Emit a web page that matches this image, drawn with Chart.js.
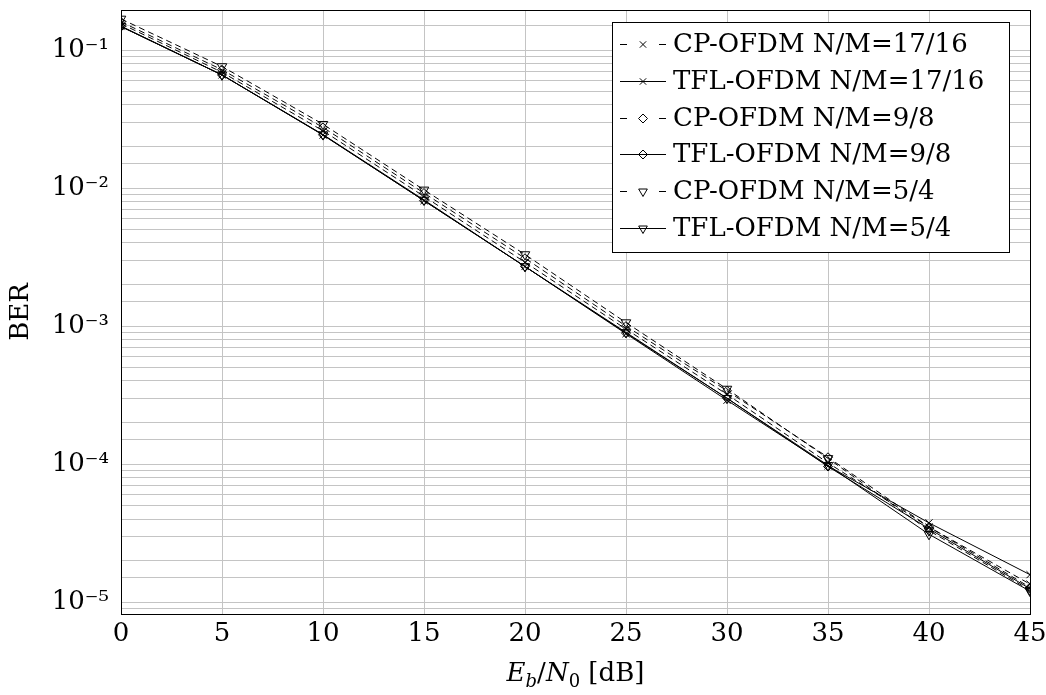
<!DOCTYPE html>
<html><head><meta charset="utf-8">
<script src="https://cdn.jsdelivr.net/npm/chart.js@4.4.1/dist/chart.umd.min.js"></script>
<style>html,body{margin:0;padding:0;background:#fff;} canvas{display:block;}</style>
</head><body>
<canvas id="c" width="1046" height="695"></canvas>
<script>
const snr = [0, 5, 10, 15, 20, 25, 30, 35, 40, 45];
const cp1716  = [0.155, 0.069, 0.0260, 0.0087, 0.0029, 0.00095, 0.00032, 1.02e-4, 3.5e-5, 1.35e-5];
const tfl1716 = [0.148, 0.066, 0.0242, 0.0081, 0.0027, 0.00088, 0.00029, 9.7e-5, 3.75e-5, 1.58e-5];
const cp98    = [0.160, 0.072, 0.0275, 0.0092, 0.0031, 0.00100, 0.00034, 1.12e-4, 3.5e-5, 1.28e-5];
const tfl98   = [0.148, 0.066, 0.0243, 0.0081, 0.0027, 0.00089, 0.00030, 9.6e-5, 3.4e-5, 1.25e-5];
const cp54    = [0.168, 0.076, 0.0290, 0.0097, 0.0033, 0.00106, 0.00035, 1.10e-4, 3.3e-5, 1.22e-5];
const tfl54   = [0.149, 0.066, 0.0244, 0.0082, 0.0027, 0.00090, 0.00030, 9.8e-5, 3.1e-5, 1.20e-5];
const seriesNames = ['CP-OFDM N/M=17/16', 'TFL-OFDM N/M=17/16', 'CP-OFDM N/M=9/8', 'TFL-OFDM N/M=9/8', 'CP-OFDM N/M=5/4', 'TFL-OFDM N/M=5/4'];
const yTickValues = [1e-5, 1e-4, 1e-3, 1e-2, 1e-1];
const yTickLabels = ['10\u207B\u2075', '10\u207B\u2074', '10\u207B\u00B3', '10\u207B\u00B2', '10\u207B\u00B9'];
const xAxisTitle = ['E', 'b', '/', 'N', '0', ' [dB]'];
const yAxisTitle = 'BER';

const FONT = 'DejaVu Serif';
const FS = 26;

function mk(label, data, dashed, style, rot) {
  return {
    label, data: snr.map((x, i) => ({x, y: data[i]})),
    borderColor: '#000', borderWidth: 1, borderDash: dashed ? [6, 4] : [],
    pointStyle: style, pointRotation: rot || 0, pointRadius: style === 'triangle' ? 5.5 : (style === 'crossRot' ? 5 : 4.5),
    pointBorderColor: '#000', pointBackgroundColor: 'rgba(0,0,0,0)', pointBorderWidth: 1,
    fill: false, tension: 0
  };
}
const datasets = [
  mk(seriesNames[0], cp1716, true, 'crossRot'),
  mk(seriesNames[1], tfl1716, false, 'crossRot'),
  mk(seriesNames[2], cp98, true, 'rectRot'),
  mk(seriesNames[3], tfl98, false, 'rectRot'),
  mk(seriesNames[4], cp54, true, 'triangle', 180),
  mk(seriesNames[5], tfl54, false, 'triangle', 180)
];

const frame = {
  id: 'frame',
  afterDraw(chart) {
    const {ctx, chartArea: a} = chart;
    ctx.save();
    ctx.strokeStyle = '#000'; ctx.lineWidth = 1; ctx.setLineDash([]);
    ctx.strokeRect(Math.round(a.left) + 0.5, Math.round(a.top) + 0.5, Math.round(a.right - a.left), Math.round(a.bottom - a.top));
    // legend
    const bx = Math.round(a.right - 418), by = Math.round(a.top + 12), bw = 397, bh = 230;
    ctx.fillStyle = '#fff';
    ctx.fillRect(bx, by, bw, bh);
    ctx.strokeRect(bx + 0.5, by + 0.5, bw, bh);
    const rowH = 36.8;
    chart.data.datasets.forEach((ds, i) => {
      const cy = Math.round(by + 22 + i * rowH) + 0.5;
      const x0 = bx + 8, x1 = bx + 54, cx = (x0 + x1) / 2;
      ctx.strokeStyle = '#000'; ctx.lineWidth = 1; ctx.setLineDash([]);
      ctx.beginPath();
      if (ds.borderDash.length) {
        ctx.moveTo(x0, cy); ctx.lineTo(x0 + 7, cy);
        ctx.moveTo(x1 - 7, cy); ctx.lineTo(x1, cy);
      } else {
        ctx.moveTo(x0, cy); ctx.lineTo(x1, cy);
      }
      ctx.stroke();
      ctx.fillStyle = 'rgba(0,0,0,0)';
      Chart.helpers.drawPoint(ctx, {pointStyle: ds.pointStyle, radius: ds.pointStyle === 'triangle' ? 5 : 4.5, rotation: ds.pointRotation, borderWidth: 1}, cx, cy);
      ctx.fillStyle = '#000';
      ctx.font = FS + 'px "' + FONT + '"';
      ctx.textBaseline = 'middle'; ctx.textAlign = 'left';
      ctx.fillText(ds.label, bx + 61, cy + 1);
    });
    // x axis title with sub-scripts
    const big = FS + 'px "' + FONT + '"', bigI = 'italic ' + big;
    const sm = Math.round(FS * 0.7) + 'px "' + FONT + '"', smI = 'italic ' + sm;
    const parts = [
      {t: xAxisTitle[0], f: bigI, dy: 0}, {t: xAxisTitle[1], f: smI, dy: 6},
      {t: xAxisTitle[2], f: big, dy: 0}, {t: xAxisTitle[3], f: bigI, dy: 0},
      {t: xAxisTitle[4], f: sm, dy: 6}, {t: xAxisTitle[5], f: big, dy: 0}
    ];
    let tw = 0;
    parts.forEach(p => { ctx.font = p.f; p.w = ctx.measureText(p.t).width; tw += p.w; });
    let x = (a.left + a.right) / 2 - tw / 2;
    const ty = 681;
    ctx.textBaseline = 'alphabetic'; ctx.textAlign = 'left'; ctx.fillStyle = '#000';
    parts.forEach(p => { ctx.font = p.f; ctx.fillText(p.t, x, ty + p.dy); x += p.w; });
    ctx.restore();
  }
};

new Chart(document.getElementById('c'), {
  type: 'line',
  data: {datasets},
  options: {
    responsive: false, animation: false, devicePixelRatio: 1,
    layout: {padding: {left: 0, right: 16, top: 10, bottom: 0}},
    plugins: {legend: {display: false}, tooltip: {enabled: false}},
    scales: {
      x: {
        type: 'linear', min: 0, max: 45,
        afterFit: s => { s.height = 81; s.paddingLeft = 0; s.paddingRight = 0; },
        grid: {color: '#c4c4c4', lineWidth: 1, drawTicks: false},
        border: {color: '#000', width: 1},
        ticks: {stepSize: 5, padding: 5, color: '#000', font: {family: FONT, size: FS}, maxRotation: 0}
      },
      y: {
        type: 'logarithmic', min: 8.2e-6, max: 0.195,
        afterFit: s => { s.width = 121; s.paddingTop = 0; s.paddingBottom = 0; },
        grid: {color: '#c4c4c4', lineWidth: 1, drawTicks: false},
        border: {color: '#000', width: 1},
        title: {display: true, text: yAxisTitle, color: '#000', font: {family: FONT, size: FS}, padding: {top: 6, bottom: 0}},
        ticks: {
          autoSkip: false, padding: 12, color: '#000', font: {family: FONT, size: FS},
          callback: (v) => {
            const k = yTickValues.findIndex(t => Math.abs(v - t) / t < 1e-6);
            return k >= 0 ? yTickLabels[k] : '';
          }
        }
      }
    }
  },
  plugins: [frame]
});
</script>
</body></html>
